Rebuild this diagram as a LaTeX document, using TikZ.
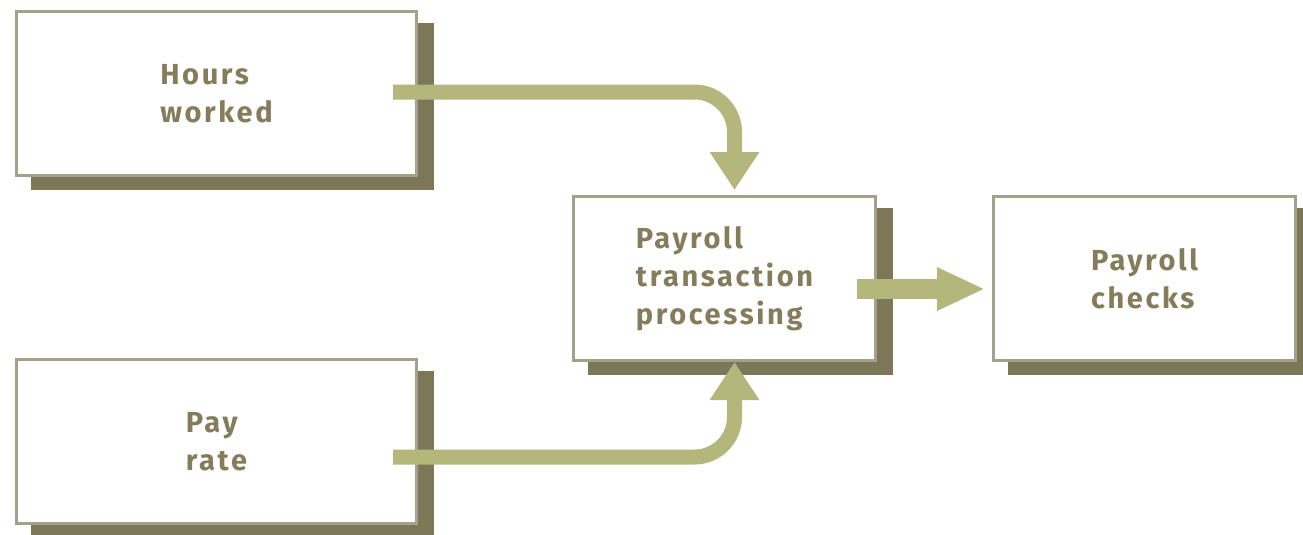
\documentclass[tikz,border=0pt]{standalone}
\usepackage{fontspec}
\setmainfont{Fira Sans}[LetterSpace=9]
\usepackage{tikz}
\usetikzlibrary{arrows.meta,shadows}

\definecolor{boxline}{HTML}{A3A18A}
\definecolor{boxshade}{HTML}{7B7757}
\definecolor{flowgreen}{HTML}{B4B67C}
\definecolor{labeltext}{HTML}{857C5C}

\begin{document}
\begin{tikzpicture}[x=1pt, y=-1pt,
  box/.style={draw=boxline, line width=3pt, fill=white, align=left, inner sep=0pt,
    minimum width=400pt, minimum height=164pt,
    font=\fontsize{29}{38}\selectfont\bfseries, text=labeltext,
    general shadow={fill=boxshade, draw=boxshade, line width=3pt, shadow xshift=16pt, shadow yshift=-13pt}},
  smallbox/.style={box, minimum width=302pt},
  flow/.style={draw=flowgreen, line width=15pt, rounded corners=40pt}]

\useasboundingbox (0,0) rectangle (1303,535);

\node [box] (hours) at (216.5,93.5) {Hours\\worked};
\node [box] (rate) at (216.5,441.5) {Pay\\rate};
\node [smallbox] (proc) at (724.5,278.5) {Payroll\\transaction\\processing};
\node [smallbox] (checks) at (1144.5,278.5) {Payroll\\checks};

\draw [flow, -{Triangle[width=47pt,length=38pt]}] ([xshift=-25pt,yshift=1.5pt]hours.east) -| ([xshift=10pt,yshift=5pt]proc.north);
\draw [flow, -{Triangle[width=47pt,length=38pt]}] ([xshift=-25pt,yshift=-15.5pt]rate.east) -| ([xshift=10pt]proc.south);
\draw [flow, line width=20pt, -{Triangle[width=40pt,length=48pt]}] ([xshift=-20pt,yshift=-10.5pt]proc.east) -- ([xshift=-7pt,yshift=-10.5pt]checks.west);

\end{tikzpicture}
\end{document}
